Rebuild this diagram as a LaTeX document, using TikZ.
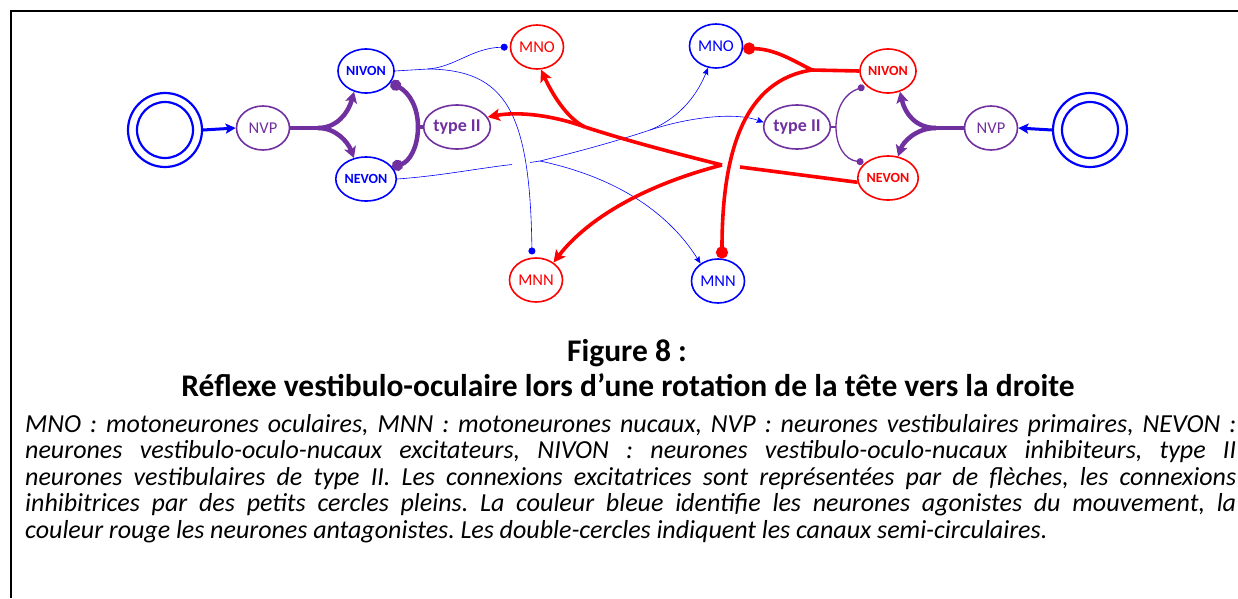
\documentclass[tikz,border=0pt]{standalone}
\usepackage{fontspec}
\setmainfont{Carlito}
\usetikzlibrary{shapes.geometric,arrows.meta}
\definecolor{vpurple}{RGB}{112,48,160}
\newcommand{\myparasetup}{\frenchspacing\spaceskip=0.22em plus 1em minus 0.05em\relax}
\begin{document}
\begin{tikzpicture}[x=1pt,y=-1pt,
  nd/.style={ellipse, minimum width=53pt, minimum height=44pt, inner sep=0pt, line width=1.6pt, fill=white},
  bn/.style={nd, draw=blue, text=blue},
  rn/.style={nd, draw=red, text=red},
  pn/.style={nd, draw=vpurple, text=vpurple},
  small/.style={font=\bfseries\fontsize{14}{14}\selectfont},
  big/.style={font=\fontsize{16.5}{16.5}\selectfont},
  bigb/.style={font=\bfseries\fontsize{18}{18}\selectfont},
  canal/.style={circle, draw=blue, line width=2.2pt, inner sep=0pt},
  pthick/.style={draw=vpurple, line width=4.5pt},
  rthick/.style={draw=red, line width=3.6pt},
  bthin/.style={draw=blue, line width=0.6pt},
  pthin/.style={draw=vpurple, line width=1.3pt},
  barrow/.style={draw=blue, line width=3pt, -{Stealth[length=10pt,width=10pt,inset=2pt]}},
  parrow/.style={pthick, -{Stealth[length=11pt,width=12pt,inset=2.5pt]}},
  pdot/.style={pthick, -{Circle[length=11pt]}},
  rarrow/.style={rthick, -{Stealth[length=12pt,width=12pt,inset=2.5pt]}},
  rdot/.style={rthick, -{Circle[length=12pt]}},
  bharrow/.style={bthin, -{Stealth[length=7pt,width=6pt,inset=1pt]}},
  bdot/.style={bthin, -{Circle[length=7pt]}},
  pdotthin/.style={pthin, -{Circle[length=7pt]}},
]
\useasboundingbox (0,0) rectangle (1238,598);
\draw[line width=2pt] (1238,11) -- (11,11) -- (11,598);

% nodes
\node[canal, minimum size=74pt] (CCL) at (165,130) {};
\node[canal, minimum size=56pt] (CCLi) at (165,130) {};
\node[canal, minimum size=74pt] (CCR) at (1090,130) {};
\node[canal, minimum size=56pt] (CCRi) at (1090,130) {};
\node[pn, big] (NVPL) at (263,128) {NVP};
\node[bn, small] (NIVL) at (366,71) {NIVON};
\node[bn, small] (NEVL) at (366,179) {NEVON};
\node[pn, bigb] (T2L) at (457,127) {type II};
\node[rn, big] (MNOR) at (537,47) {MNO};
\node[bn, big] (MNOB) at (716,46) {MNO};
\node[rn, small] (NIVR) at (888,71) {NIVON};
\node[rn, small] (NEVR) at (888,178) {NEVON};
\node[pn, bigb] (T2R) at (797,127) {type II};
\node[pn, big] (NVPR) at (991,128) {NVP};
\node[rn, big] (MNNR) at (536,280) {MNN};
\node[bn, big] (MNNB) at (718,281) {MNN};

% junction coordinates
\coordinate (fL) at (318,128);
\coordinate (iL) at (418,127);
\coordinate (fR) at (936,128);
\coordinate (iR) at (836,127);
\coordinate (jNIVL) at (428,69);
\coordinate (gA) at (512,164.5);
\coordinate (gB) at (530,162.5);
\coordinate (jNEVL) at (540,161);
\coordinate (jMNOB) at (650,130);
\coordinate (jNIVR) at (812,70);
\coordinate (gC) at (740,167);
\coordinate (jNEVR) at (722,165);
\coordinate (jT2) at (585,127);

% blue entry arrows
\draw[barrow] (CCL.east) -- (NVPL.west);
\draw[barrow] (CCR.west) -- (NVPR.east);

% purple left
\draw[pthick] (NVPL.east) -- (fL);
\draw[parrow] (fL) .. controls (336,128) and (348,114) .. (NIVL.240);
\draw[parrow] (fL) .. controls (336,128) and (348,142) .. (NEVL.120);
\draw[pthick] (T2L.west) -- (iL);
\draw[pdot] (iL) .. controls (418,108) and (410,93) .. (NIVL.335);
\draw[pdot] (iL) .. controls (418,146) and (410,162) .. (NEVL.25);

% purple right
\draw[pthick] (NVPR.west) -- (fR);
\draw[parrow] (fR) .. controls (916,128) and (905,114) .. (NIVR.300);
\draw[parrow] (fR) .. controls (916,128) and (903,142) .. (NEVR.65);
\draw[pthin] (T2R.east) -- (iR);
\draw[pdotthin, shorten >=2pt] (iR) .. controls (836,108) and (845,93) .. (NIVR.215);
\draw[pdotthin, shorten >=2pt] (iR) .. controls (836,146) and (845,160) .. (NEVR.145);

% blue thin connections
\draw[bthin] (NEVL.east) .. controls (440,176) and (480,168) .. (gA);
\draw[bthin] (gB) -- (jNEVL);
\draw[bthin] (NIVL.east) -- (jNIVL);
\draw[bdot, shorten >=2pt] (jNIVL) .. controls (455,67) and (472,48) .. (MNOR.west);
\draw[bdot, shorten >=3pt] (jNIVL) .. controls (505,70) and (530,110) .. (MNNR.100);
\draw[bthin] (jNEVL) .. controls (585,150) and (620,140) .. (jMNOB);
\draw[bharrow] (jMNOB) .. controls (675,120) and (695,100) .. (MNOB.250);
\draw[bharrow] (jMNOB) .. controls (690,117) and (735,112) .. (T2R.172);
\draw[bharrow] (jNEVL) .. controls (620,178) and (670,215) .. (MNNB.135);

% red connections
\draw[rthick] (NIVR.west) -- (jNIVR);
\draw[rdot] (jNIVR) .. controls (792,60) and (775,49) .. (MNOB.355);
\draw[rthick] (NEVR.188) -- (gC);
\draw[rthick] (jNEVR) .. controls (670,152) and (625,140) .. (jT2);
\draw[rarrow] (jT2) .. controls (570,120) and (555,100) .. (MNOR.280);
\draw[rarrow] (jT2) .. controls (555,116) and (520,111) .. (T2L.18);
\draw[rarrow] (jNEVR) .. controls (645,185) and (588,218) .. (MNNR.45);
\draw[rdot] (jNIVR) .. controls (745,80) and (722,150) .. (MNNB.80);

% caption
\node[font=\bfseries\fontsize{31.5}{31.5}\selectfont, anchor=base] (fig) at (627,361) {Figure 8 :};
\node[font=\bfseries\fontsize{31.5}{31.5}\selectfont, anchor=base] (title) at (628,396) {Réflexe vestibulo-oculaire lors d’une rotation de la tête vers la droite};
\node[anchor=north west, inner sep=0pt, text width=1211pt, align=left, font=\itshape\fontsize{26}{26.5}\selectfont] (para) at (25,414) {\myparasetup
\hbox to 1211pt{MNO : motoneurones oculaires, MNN : motoneurones nucaux, NVP : neurones vestibulaires primaires, NEVON :}
\hbox to 1211pt{neurones vestibulo-oculo-nucaux excitateurs, NIVON : neurones vestibulo-oculo-nucaux inhibiteurs, type II}
\hbox to 1211pt{neurones vestibulaires de type II. Les connexions excitatrices sont représentées par de flèches, les connexions}
\hbox to 1211pt{inhibitrices par des petits cercles pleins. La couleur bleue identifie les neurones agonistes du mouvement, la}
couleur rouge les neurones antagonistes. Les double-cercles indiquent les canaux semi-circulaires.};
\end{tikzpicture}
\end{document}
